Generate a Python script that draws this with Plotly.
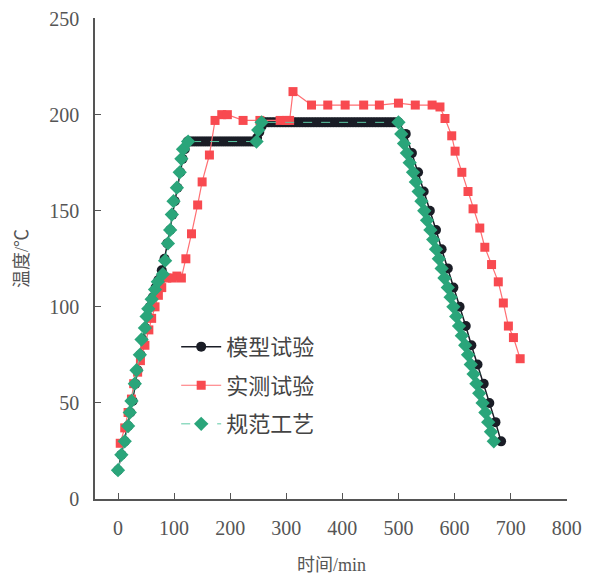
import plotly.graph_objects as go

# ---- data ----
model_x = [0, 6, 12, 18, 22, 26, 31, 35, 40, 44, 49, 53, 57, 62, 67, 72, 78, 83, 88, 93, 97, 101, 106, 111, 115, 119, 124,
           128, 132, 136, 140, 144, 148, 152, 156, 160, 164, 168, 172, 176, 180, 184, 188, 192, 196, 200, 204, 208, 212,
           216, 220, 224, 228, 232, 236, 240, 244,
           248, 252, 256, 260,
           264, 269, 274, 279, 284, 289, 294, 299, 304, 309, 314, 319, 324, 329, 334, 339, 344, 349, 354, 359, 364, 369,
           374, 379, 384, 389, 394, 399, 404, 409, 414, 419, 424, 429, 434, 439, 444, 449, 454, 459, 464, 469, 474, 479,
           484, 489, 494, 500,
           513, 524, 535, 545, 556, 567, 577, 588, 598, 609, 620, 630, 641, 652, 662, 673, 683]
model_y = [15, 23, 30, 38, 45, 51, 60, 67, 75, 83, 89, 95, 100, 105, 110, 114, 119, 125, 133, 140, 148, 155, 162, 170, 177, 182, 186,
           186, 186, 186, 186, 186, 186, 186, 186, 186, 186, 186, 186, 186, 186, 186, 186, 186, 186, 186, 186, 186, 186,
           186, 186, 186, 186, 186, 186, 186, 186,
           188, 191, 194, 196,
           196, 196, 196, 196, 196, 196, 196, 196, 196, 196, 196, 196, 196, 196, 196, 196, 196, 196, 196, 196, 196, 196,
           196, 196, 196, 196, 196, 196, 196, 196, 196, 196, 196, 196, 196, 196, 196, 196, 196, 196, 196, 196, 196, 196,
           196, 196, 196, 196,
           190, 180, 170, 160, 150, 140, 130, 120, 110, 100, 90, 80, 70, 60, 50, 40, 30]

meas_x = [4, 12, 18, 24, 28, 35, 40, 48, 55, 60, 66, 72, 78, 87, 97, 105, 113, 121, 131, 142, 150, 163, 173, 185, 195,
          223, 253, 289, 300, 306, 312, 345, 374, 405, 438, 466, 500, 530, 560, 574, 583, 595, 601, 613, 624, 633,
          645, 654, 666, 678, 687, 696, 705, 717]
meas_y = [29, 37, 45, 52, 60, 66, 72, 80, 88, 94, 100, 106, 110, 115, 115, 116, 115, 125, 138, 153, 165, 179, 197, 200, 200,
          197, 197, 197, 197, 197, 212, 205, 205, 205, 205, 205, 206, 205, 205, 204, 198, 189, 181, 170, 160, 151,
          141, 131, 122, 113, 102, 90, 84, 73]

spec_x = [0, 6, 12, 18, 21, 24, 30, 33, 39, 42, 48, 51, 54, 60, 66, 71, 80, 84, 89, 93, 96, 99, 105, 110, 113, 116, 125,
          247, 250, 256,
          500, 505, 510, 515, 520, 526, 531, 536, 541, 546, 551, 557, 562, 567, 572, 577, 582, 588, 593, 598, 603,
          608, 613, 619, 624, 629, 634, 639, 644, 650, 655, 660, 665, 670]
spec_y = [15, 23, 30, 38, 45, 51, 60, 67, 75, 83, 89, 95, 99, 104, 109, 113, 117, 124, 133, 140, 148, 155, 162, 170, 177, 182, 186,
          186, 192, 196,
          196, 190, 185, 180, 175, 170, 165, 160, 155, 150, 145, 140, 135, 130, 125, 120, 115, 110, 105, 100, 95,
          90, 85, 80, 75, 70, 65, 60, 55, 50, 45, 40, 35, 30]

names = ["模型试验", "实测试验", "规范工艺"]
x_ticks = [0, 100, 200, 300, 400, 500, 600, 700, 800]
y_ticks = [0, 50, 100, 150, 200, 250]
x_title = "时间/min"
y_title = "温度/℃"

FONT = "'Liberation Serif', 'Noto Sans CJK SC', serif"
AXIS_COLOR = "#555555"

fig = go.Figure()
fig.add_trace(go.Scatter(
    x=model_x, y=model_y, name=names[0], mode="lines+markers", legendgroup="a",
    line=dict(color="#1a1d26", width=1.5),
    marker=dict(symbol="circle", size=10, color="#1a1d26"),
))
fig.add_trace(go.Scatter(
    x=meas_x, y=meas_y, name=names[1], mode="lines+markers", legendgroup="b",
    line=dict(color="#ff6f73", width=1.2),
    marker=dict(symbol="square", size=9, color="#f84a50"),
))
fig.add_trace(go.Scatter(
    x=spec_x, y=spec_y, name=names[2], mode="lines+markers", legendgroup="c",
    line=dict(color="#5cc9a4", width=1, dash="dash"),
    marker=dict(symbol="diamond", size=11, color="#2aa57a"),
))

fig.update_layout(
    width=600, height=570,
    margin=dict(l=87, r=41, t=10, b=79),
    paper_bgcolor="white", plot_bgcolor="white",
    font=dict(family=FONT, size=20, color=AXIS_COLOR),
    showlegend=True,
    legend=dict(
        x=0.172, y=0.36, xanchor="left", yanchor="top",
        bgcolor="rgba(0,0,0,0)",
        font=dict(family="'Noto Sans CJK SC', sans-serif", size=22, color="#444444"),
        tracegroupgap=7,
        itemwidth=40,
    ),
    xaxis=dict(
        range=[-41, 800.5], tickvals=x_ticks, ticks="inside", ticklen=6,
        tickcolor=AXIS_COLOR, showline=True, linecolor=AXIS_COLOR, linewidth=1.5,
        showgrid=False, zeroline=False, automargin=False, ticklabelstandoff=10,
        ticklabeloverflow="allow",
        tickfont=dict(family=FONT, size=20, color=AXIS_COLOR),
    ),
    yaxis=dict(
        range=[0, 250.3], tickvals=y_ticks, ticks="inside", ticklen=6,
        tickcolor=AXIS_COLOR, showline=True, linecolor=AXIS_COLOR, linewidth=1.5,
        showgrid=False, zeroline=False, automargin=False, ticklabelstandoff=10,
        ticklabeloverflow="allow",
        tickfont=dict(family=FONT, size=20, color=AXIS_COLOR),
        title=dict(text=y_title, font=dict(family=FONT, size=18, color=AXIS_COLOR), standoff=16),
    ),
    annotations=[dict(
        text=x_title, xref="paper", yref="paper", x=0.5, y=-0.137,
        xanchor="center", yanchor="middle", showarrow=False,
        font=dict(family=FONT, size=18, color=AXIS_COLOR),
    )],
)

fig.write_html("out.html")
